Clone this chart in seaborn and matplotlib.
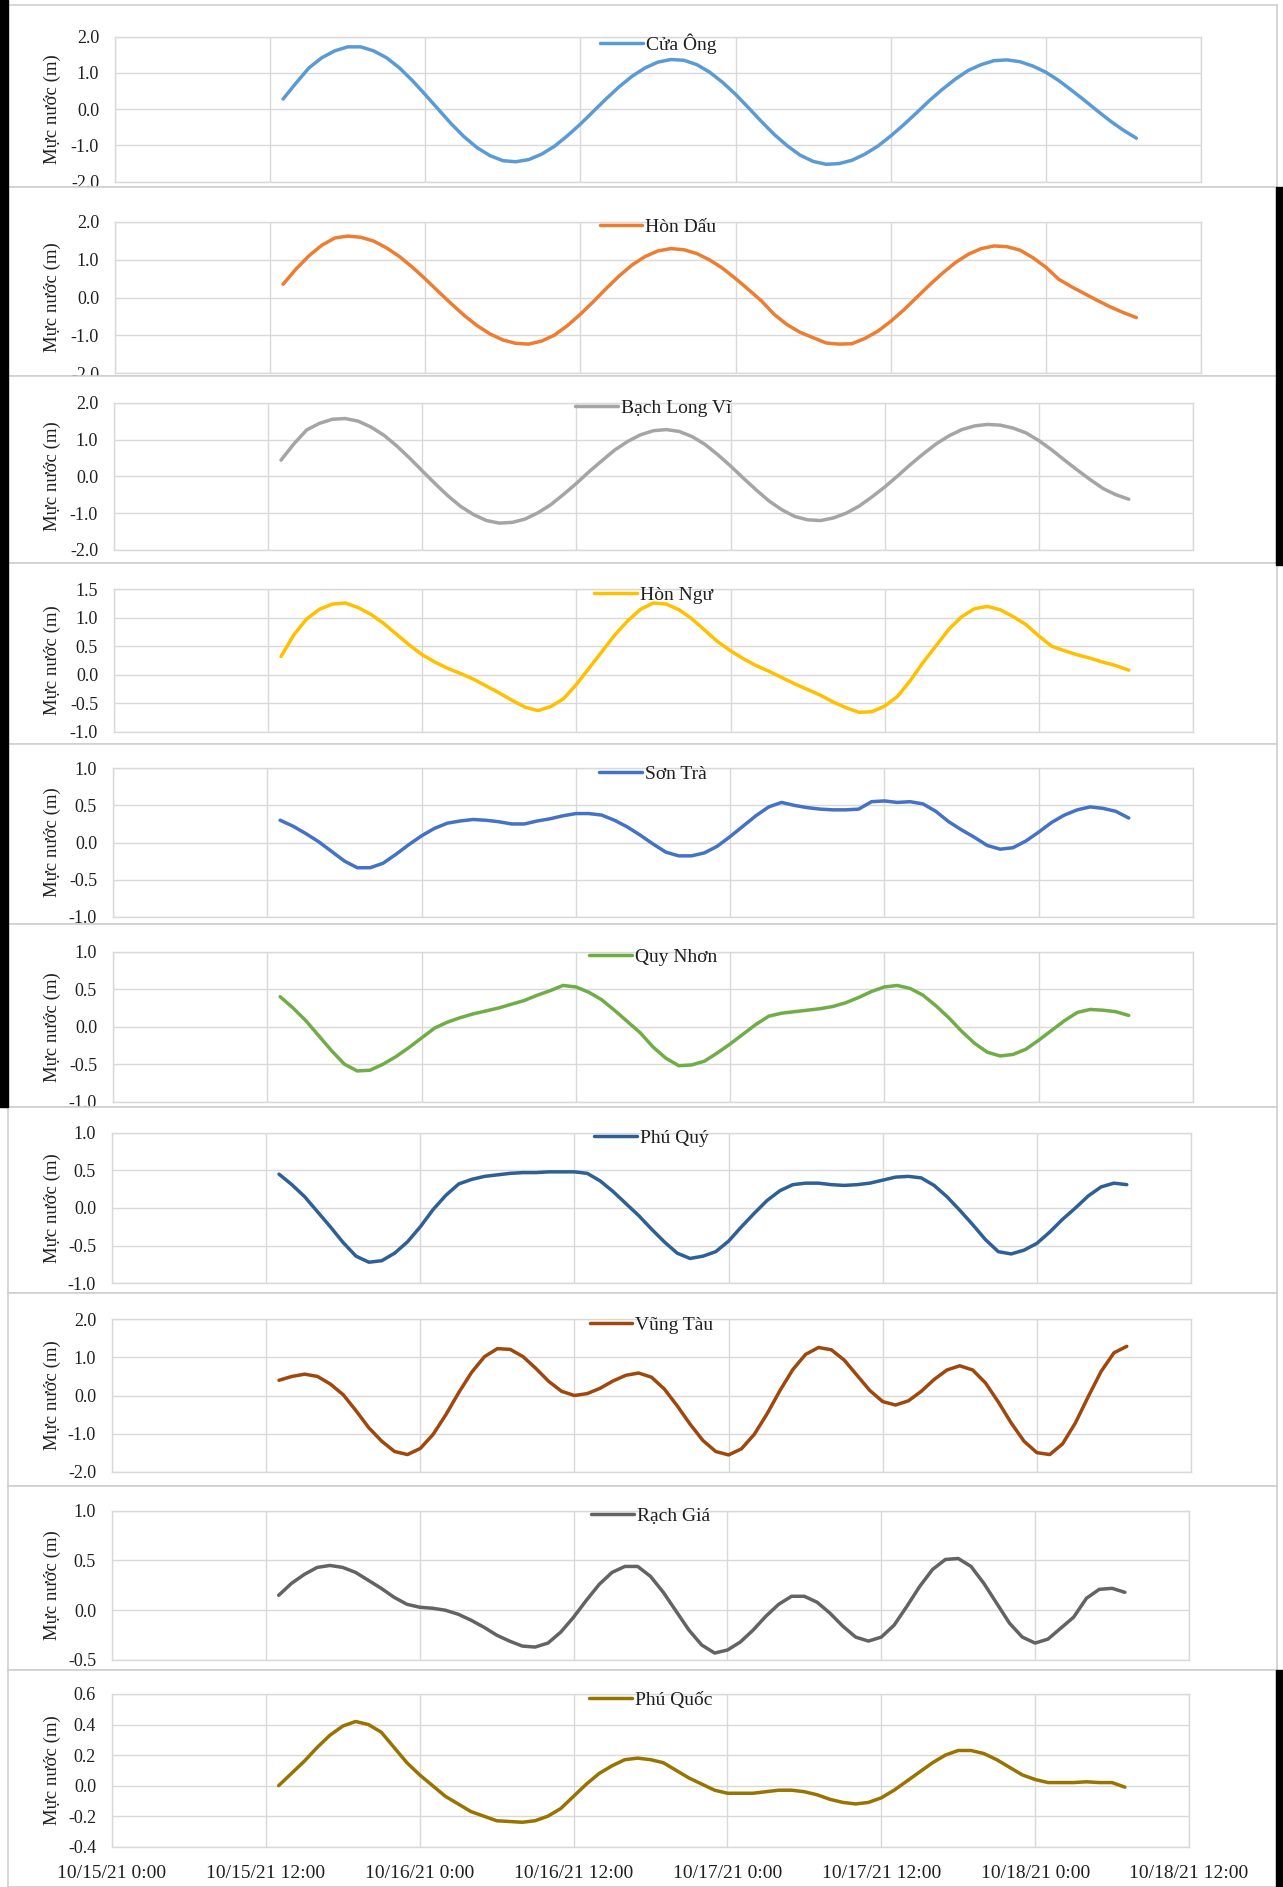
import matplotlib
matplotlib.use("Agg")
import matplotlib.pyplot as plt
from matplotlib.patches import Rectangle
import pandas as pd
import seaborn as sns

sns.set_theme(style="white")
plt.rcParams['font.family'] = ['Liberation Serif', 'DejaVu Serif']
plt.rcParams['axes.unicode_minus'] = False

# ---------------- data (hourly, 10/15 13:00 -> 10/18 07:00) ----------------
times = pd.date_range("2021-10-15 13:00", periods=67, freq="h")
xtick_times = pd.date_range("2021-10-15 00:00", periods=8, freq="12h")
xtick_labels = ["10/15/21 0:00", "10/15/21 12:00", "10/16/21 0:00", "10/16/21 12:00",
                "10/17/21 0:00", "10/17/21 12:00", "10/18/21 0:00", "10/18/21 12:00"]

stations = ["Cửa Ông", "Hòn Dấu", "Bạch Long Vĩ", "Hòn Ngư", "Sơn Trà",
            "Quy Nhơn", "Phú Quý", "Vũng Tàu", "Rạch Giá", "Phú Quốc"]

cua_ong = [0.28, 0.72, 1.14, 1.42, 1.61, 1.72, 1.72, 1.61, 1.42, 1.14,
           0.79, 0.40, 0.00, -0.40, -0.76, -1.06, -1.28, -1.42, -1.45, -1.39,
           -1.24, -1.02, -0.73, -0.41, -0.06, 0.29, 0.62, 0.91, 1.14, 1.30,
           1.37, 1.35, 1.23, 1.02, 0.74, 0.41, 0.04, -0.34, -0.70, -1.01,
           -1.27, -1.44, -1.52, -1.50, -1.41, -1.24, -1.02, -0.74, -0.43, -0.10,
           0.24, 0.55, 0.83, 1.07, 1.23, 1.34, 1.36, 1.31, 1.19, 1.02,
           0.79, 0.52, 0.24, -0.05, -0.33, -0.58, -0.80]
hon_dau = [0.35, 0.75, 1.10, 1.38, 1.57, 1.62, 1.59, 1.49, 1.31, 1.08,
           0.80, 0.49, 0.16, -0.16, -0.47, -0.74, -0.96, -1.12, -1.21, -1.23,
           -1.15, -0.99, -0.74, -0.44, -0.11, 0.24, 0.57, 0.86, 1.08, 1.23,
           1.29, 1.26, 1.16, 0.99, 0.77, 0.50, 0.21, -0.09, -0.45, -0.72,
           -0.92, -1.06, -1.20, -1.23, -1.22, -1.08, -0.89, -0.63, -0.33, 0.00,
           0.33, 0.64, 0.92, 1.14, 1.29, 1.36, 1.34, 1.25, 1.05, 0.80,
           0.48, 0.28, 0.10, -0.08, -0.25, -0.40, -0.53]
bach_long_vi = [0.44, 0.88, 1.26, 1.44, 1.55, 1.57, 1.50, 1.34, 1.12, 0.83,
                0.50, 0.15, -0.20, -0.53, -0.82, -1.04, -1.20, -1.27, -1.25, -1.16,
                -0.99, -0.77, -0.49, -0.19, 0.13, 0.43, 0.72, 0.95, 1.13, 1.24,
                1.27, 1.22, 1.08, 0.87, 0.59, 0.28, -0.05, -0.37, -0.67, -0.91,
                -1.09, -1.18, -1.20, -1.13, -1.00, -0.81, -0.56, -0.29, 0.01, 0.32,
                0.61, 0.88, 1.10, 1.27, 1.37, 1.41, 1.39, 1.31, 1.18, 0.97,
                0.72, 0.44, 0.17, -0.09, -0.33, -0.50, -0.62]
hon_ngu = [0.32, 0.70, 0.98, 1.15, 1.24, 1.26, 1.18, 1.06, 0.90, 0.71,
           0.52, 0.35, 0.22, 0.11, 0.02, -0.08, -0.20, -0.32, -0.45, -0.57,
           -0.63, -0.56, -0.42, -0.17, 0.12, 0.41, 0.70, 0.95, 1.15, 1.26,
           1.24, 1.14, 0.98, 0.78, 0.58, 0.42, 0.28, 0.16, 0.06, -0.05,
           -0.16, -0.26, -0.36, -0.48, -0.58, -0.66, -0.65, -0.55, -0.38, -0.10,
           0.22, 0.51, 0.80, 1.02, 1.16, 1.20, 1.14, 1.02, 0.88, 0.68,
           0.50, 0.42, 0.35, 0.29, 0.22, 0.16, 0.08]
son_tra = [0.30, 0.22, 0.12, 0.01, -0.12, -0.25, -0.34, -0.34, -0.28, -0.16,
           -0.03, 0.09, 0.19, 0.26, 0.29, 0.31, 0.30, 0.28, 0.25, 0.25,
           0.29, 0.32, 0.36, 0.39, 0.39, 0.37, 0.30, 0.21, 0.10, -0.02,
           -0.13, -0.18, -0.18, -0.14, -0.05, 0.08, 0.22, 0.36, 0.48, 0.54,
           0.50, 0.47, 0.45, 0.44, 0.44, 0.45, 0.55, 0.56, 0.54, 0.55,
           0.52, 0.42, 0.28, 0.17, 0.07, -0.04, -0.09, -0.07, 0.02, 0.14,
           0.27, 0.37, 0.44, 0.48, 0.46, 0.42, 0.33]
quy_nhon = [0.40, 0.25, 0.08, -0.12, -0.32, -0.50, -0.59, -0.58, -0.50, -0.40,
            -0.28, -0.15, -0.02, 0.06, 0.12, 0.17, 0.21, 0.25, 0.30, 0.35,
            0.42, 0.48, 0.55, 0.53, 0.46, 0.36, 0.22, 0.07, -0.08, -0.27,
            -0.42, -0.52, -0.51, -0.46, -0.35, -0.23, -0.10, 0.03, 0.14, 0.18,
            0.20, 0.22, 0.24, 0.27, 0.32, 0.39, 0.47, 0.53, 0.55, 0.51,
            0.42, 0.28, 0.12, -0.06, -0.22, -0.34, -0.39, -0.37, -0.30, -0.18,
            -0.05, 0.08, 0.19, 0.23, 0.22, 0.20, 0.15]
phu_quy = [0.45, 0.31, 0.15, -0.05, -0.25, -0.46, -0.64, -0.72, -0.70, -0.60,
           -0.45, -0.25, -0.02, 0.17, 0.32, 0.38, 0.42, 0.44, 0.46, 0.47,
           0.47, 0.48, 0.48, 0.48, 0.46, 0.36, 0.22, 0.06, -0.10, -0.28,
           -0.45, -0.60, -0.67, -0.64, -0.58, -0.44, -0.25, -0.07, 0.10, 0.23,
           0.31, 0.33, 0.33, 0.31, 0.30, 0.31, 0.33, 0.37, 0.41, 0.42,
           0.40, 0.30, 0.15, -0.03, -0.22, -0.42, -0.58, -0.61, -0.56, -0.47,
           -0.32, -0.15, 0.00, 0.16, 0.28, 0.33, 0.31]
vung_tau = [0.40, 0.50, 0.56, 0.50, 0.30, 0.02, -0.40, -0.85, -1.20, -1.47,
            -1.55, -1.39, -1.02, -0.50, 0.08, 0.61, 1.02, 1.23, 1.21, 1.02,
            0.71, 0.37, 0.11, 0.00, 0.05, 0.19, 0.38, 0.53, 0.59, 0.48,
            0.17, -0.27, -0.75, -1.18, -1.47, -1.56, -1.40, -1.02, -0.48, 0.13,
            0.68, 1.08, 1.26, 1.20, 0.93, 0.53, 0.13, -0.16, -0.25, -0.14,
            0.11, 0.42, 0.67, 0.78, 0.67, 0.33, -0.17, -0.72, -1.20, -1.50,
            -1.55, -1.27, -0.72, -0.03, 0.63, 1.12, 1.29]
rach_gia = [0.15, 0.27, 0.36, 0.43, 0.45, 0.43, 0.38, 0.30, 0.22, 0.13,
            0.06, 0.03, 0.02, 0.00, -0.04, -0.10, -0.17, -0.25, -0.31, -0.36,
            -0.37, -0.33, -0.22, -0.07, 0.10, 0.26, 0.38, 0.44, 0.44, 0.34,
            0.18, -0.01, -0.20, -0.35, -0.43, -0.40, -0.32, -0.20, -0.06, 0.06,
            0.14, 0.14, 0.08, -0.03, -0.16, -0.27, -0.31, -0.27, -0.15, 0.04,
            0.24, 0.41, 0.51, 0.52, 0.44, 0.27, 0.07, -0.13, -0.27, -0.33,
            -0.29, -0.18, -0.07, 0.12, 0.21, 0.22, 0.18]
phu_quoc = [0.00, 0.08, 0.16, 0.25, 0.33, 0.39, 0.42, 0.40, 0.35, 0.25,
            0.15, 0.07, 0.00, -0.07, -0.12, -0.17, -0.20, -0.23, -0.235, -0.24,
            -0.23, -0.20, -0.15, -0.07, 0.01, 0.08, 0.13, 0.17, 0.18, 0.17,
            0.15, 0.10, 0.05, 0.01, -0.03, -0.05, -0.05, -0.05, -0.04, -0.03,
            -0.03, -0.04, -0.06, -0.09, -0.11, -0.12, -0.11, -0.08, -0.03, 0.03,
            0.09, 0.15, 0.20, 0.23, 0.23, 0.21, 0.17, 0.12, 0.07, 0.04,
            0.02, 0.02, 0.02, 0.025, 0.02, 0.02, -0.01]

series = [cua_ong, hon_dau, bach_long_vi, hon_ngu, son_tra,
          quy_nhon, phu_quy, vung_tau, rach_gia, phu_quoc]

ylims = [(-2, 2), (-2, 2), (-2, 2), (-1, 1.5), (-1, 1),
         (-1, 1), (-1, 1), (-2, 2), (-0.5, 1), (-0.4, 0.6)]
yticks = [[-2, -1, 0, 1, 2], [-2, -1, 0, 1, 2], [-2, -1, 0, 1, 2],
          [-1, -0.5, 0, 0.5, 1, 1.5], [-1, -0.5, 0, 0.5, 1],
          [-1, -0.5, 0, 0.5, 1], [-1, -0.5, 0, 0.5, 1], [-2, -1, 0, 1, 2],
          [-0.5, 0, 0.5, 1], [-0.4, -0.2, 0, 0.2, 0.4, 0.6]]

# ---------------- styles / layout ----------------
colors = ["#5B9BD5", "#ED7D31", "#A5A5A5", "#FFC000", "#4472C4",
          "#70AD47", "#2E6095", "#9E480E", "#636363", "#997300"]

W, H = 1283, 1887
frames = [(5, 187), (187, 375.5), (375.5, 563), (563, 744), (744, 924),
          (924, 1107), (1107, 1293), (1293, 1486), (1486, 1670), (1670, 1887)]
plot_y = [(36.7, 181.7), (221.7, 373.3), (402.7, 550), (589.3, 731.7), (768.3, 916.7),
          (951.7, 1101.7), (1132.7, 1283.3), (1319.3, 1471.7), (1510.7, 1660), (1694, 1846.7)]
plot_x = [(115, 1201), (115, 1201), (114, 1193), (114, 1193), (113, 1193),
          (113, 1193), (112, 1191), (112, 1191), (112, 1189), (112, 1189)]

TEXT = "#1f1f1f"
GRID = "#D9D9D9"


def rect(x0, y0, x1, y1):
    return [x0 / W, 1 - y1 / H, (x1 - x0) / W, (y1 - y0) / H]


fig = plt.figure(figsize=(W / 100, H / 100), dpi=100)
fig.patch.set_facecolor("white")

n = len(stations)
for i in range(n):
    ftop, fbot = frames[i]
    fax = fig.add_axes(rect(8, ftop, 1277, fbot), zorder=2 * i)
    fax.set_xticks([])
    fax.set_yticks([])
    fax.set_facecolor("white")
    for s in fax.spines.values():
        s.set_color("#CFCFCF")
        s.set_linewidth(1.2)

    left, right = plot_x[i]
    ptop, pbot = plot_y[i]
    ax = fig.add_axes(rect(left, ptop, right, pbot), zorder=2 * i + 1)
    ax.set_facecolor("white")
    df = pd.DataFrame({"time": times, "level": series[i]})
    sns.lineplot(data=df, x="time", y="level", ax=ax, color=colors[i],
                 linewidth=2.5, label=stations[i])

    ax.set_xlim(xtick_times[0], xtick_times[-1])
    ax.set_xticks(xtick_times)
    ax.set_ylim(*ylims[i])
    ax.set_yticks(yticks[i])
    ax.set_yticklabels([f"{v:.1f}" for v in yticks[i]])
    ax.grid(True, color=GRID, linewidth=1)
    ax.set_axisbelow(True)
    for s in ax.spines.values():
        s.set_color(GRID)
        s.set_linewidth(1)
    ax.tick_params(axis="y", length=0, pad=11.5, labelsize=13, labelcolor=TEXT)
    if i == n - 1:
        ax.set_xticklabels(xtick_labels)
        ax.tick_params(axis="x", length=0, pad=13, labelsize=14, labelcolor=TEXT)
    else:
        ax.tick_params(axis="x", length=0, labelbottom=False)
    ax.set_xlabel("")
    ax.set_ylabel("Mực nước (m)", fontsize=13.5, color=TEXT)
    ax.yaxis.set_label_coords((61 - left) / (right - left), 0.5)

    ph = pbot - ptop
    ax.legend(loc="upper center", bbox_to_anchor=(0.5, 1 + 7 / ph), frameon=False,
              fontsize=14, handlelength=2.2, handletextpad=0.15, borderaxespad=0,
              borderpad=0.2, labelcolor=TEXT)

# screenshot edge artefacts
fig.add_artist(Rectangle((0, 1 - 1107 / H), 8 / W, 1107 / H, transform=fig.transFigure,
                         color="black", zorder=100))
fig.add_artist(Rectangle((1276 / W, 1 - 565 / H), 7 / W, (565 - 187) / H,
                         transform=fig.transFigure, color="black", zorder=100))
fig.add_artist(Rectangle((1276 / W, 0), 7 / W, (1887 - 1670) / H,
                         transform=fig.transFigure, color="black", zorder=100))

fig.savefig("out.png", dpi=100, facecolor="white")
